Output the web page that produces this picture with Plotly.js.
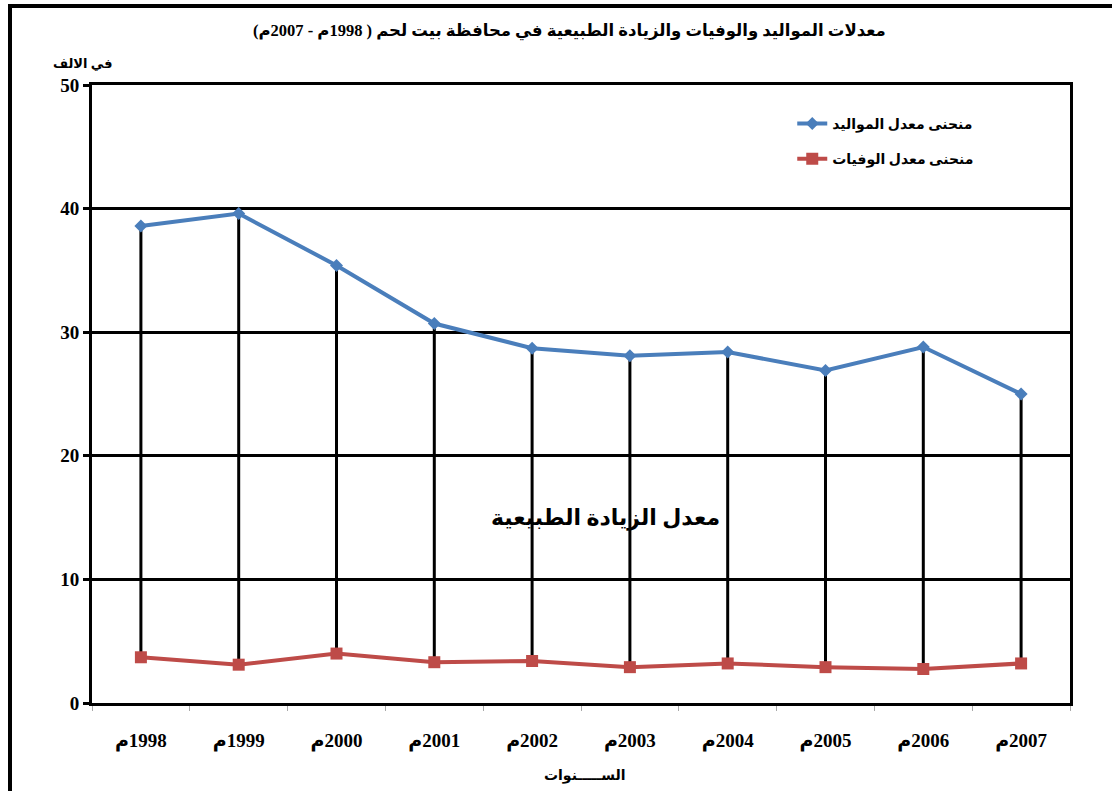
<!DOCTYPE html>
<html>
<head>
<meta charset="utf-8">
<script src="https://cdn.plot.ly/plotly-3.0.1.min.js"></script>
<style>
  body { margin: 0; background: #fff; }
  #chart { width: 1112px; height: 791px; }
  #frame {
    position: absolute; left: 8px; top: 4px; width: 1104px; height: 787px;
    border-top: 4px solid #000; border-left: 4px solid #000;
    box-sizing: border-box; pointer-events: none;
  }
</style>
</head>
<body>
<div id="chart"></div>
<div id="frame"></div>
<script>
// data (per thousand)
const years = ['1998', '1999', '2000', '2001', '2002', '2003', '2004', '2005', '2006', '2007'];
const birthRate = [38.6, 39.6, 35.4, 30.7, 28.7, 28.1, 28.4, 26.9, 28.8, 25.0];
const deathRate = [3.7, 3.1, 4.0, 3.3, 3.4, 2.9, 3.2, 2.9, 2.75, 3.2];

const rtl = s => '\u202B' + s + '\u202C';
const yearLabels = years.map(y => rtl(y + 'م'));

const font = '"Liberation Serif", "DejaVu Sans", serif';

// high-low lines between the two curves
const dropX = [], dropY = [];
years.forEach((y, i) => {
  dropX.push(yearLabels[i], yearLabels[i], null);
  dropY.push(deathRate[i], birthRate[i], null);
});

const traces = [
  {
    type: 'scatter', mode: 'lines', x: dropX, y: dropY,
    line: { color: '#000', width: 3 }, showlegend: false, hoverinfo: 'skip'
  },
  {
    type: 'scatter', mode: 'lines+markers', name: rtl('منحنى معدل المواليد'),
    x: yearLabels, y: birthRate,
    line: { color: '#4A7EBB', width: 4 },
    marker: { symbol: 'diamond', size: 10, color: '#4A7EBB' },
    legend: 'legend'
  },
  {
    type: 'scatter', mode: 'lines+markers', name: rtl('منحنى معدل الوفيات'),
    x: yearLabels, y: deathRate,
    line: { color: '#BE4B48', width: 4 },
    marker: { symbol: 'square', size: 12, color: '#BE4B48' },
    legend: 'legend2'
  }
];

const legendStyle = {
  xanchor: 'left', yanchor: 'middle', bgcolor: 'rgba(0,0,0,0)',
  font: { family: font, size: 14, color: '#000', weight: 'bold' }
};

const layout = {
  width: 1112, height: 791,
  margin: { l: 92, r: 42, t: 85, b: 88 },
  paper_bgcolor: '#fff', plot_bgcolor: '#fff',
  font: { family: font, color: '#000' },
  title: {
    text: rtl('معدلات المواليد والوفيات والزيادة الطبيعية في محافظة بيت لحم ( 1998م - 2007م)'),
    font: { family: font, size: 16.5, color: '#000', weight: 'bold' },
    x: 0.512, xanchor: 'center', y: 0.962, yanchor: 'middle'
  },
  xaxis: {
    type: 'category', range: [-0.5, 9.5],
    showline: true, linecolor: '#000', linewidth: 3, mirror: true,
    showgrid: false, tickson: 'boundaries', ticks: 'outside', ticklen: 5,
    tickcolor: '#aaa', tickwidth: 1, ticklabelstandoff: 18,
    tickfont: { family: font, size: 19, color: '#000', weight: 'bold' }
  },
  yaxis: {
    range: [0, 50], dtick: 10,
    showline: true, linecolor: '#000', linewidth: 3, mirror: true,
    showgrid: true, gridcolor: '#000', gridwidth: 3, zeroline: false,
    ticks: 'outside', ticklen: 6, tickcolor: '#000', tickwidth: 3,
    tickfont: { family: font, size: 19, color: '#000', weight: 'bold' }
  },
  legend: Object.assign({ x: 0.716, y: 0.937 }, legendStyle),
  legend2: Object.assign({ x: 0.716, y: 0.88 }, legendStyle),
  annotations: [
    {
      text: rtl('معدل الزيادة الطبيعية'), xref: 'paper', yref: 'y',
      x: 0.525, y: 15, showarrow: false,
      font: { family: font, size: 22, color: '#000', weight: 'bold' }
    },
    {
      text: rtl('في الالف'), xref: 'paper', yref: 'paper',
      x: -0.01, y: 1.05, xanchor: 'center', showarrow: false,
      font: { family: font, size: 13, color: '#000', weight: 'bold' }
    },
    {
      text: rtl('الســـــنوات'), xref: 'paper', yref: 'paper',
      x: 0.504, y: -0.135, showarrow: false,
      font: { family: font, size: 14, color: '#000', weight: 'bold' }
    }
  ]
};

Plotly.newPlot('chart', traces, layout, { displayModeBar: false, staticPlot: true });
</script>
</body>
</html>
